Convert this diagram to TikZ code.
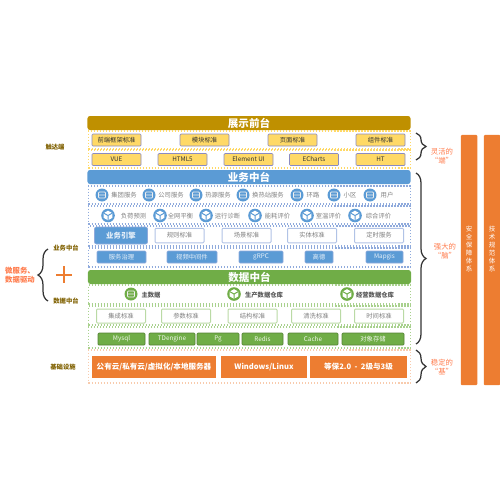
\documentclass[tikz,border=0pt]{standalone}
\usepackage{fontspec}
\setmainfont{Noto Sans CJK SC}
\usepackage{xcolor}
\usetikzlibrary{decorations.pathreplacing}
\definecolor{goldbar}{HTML}{BF9000}
\definecolor{goldbtn}{HTML}{FFD966}
\definecolor{goldtxt}{HTML}{7F6000}
\definecolor{bluebar}{HTML}{5B9BD5}
\definecolor{bluedot}{HTML}{8FAADC}
\definecolor{greenbar}{HTML}{70AD47}
\definecolor{greendot}{HTML}{A9D18E}
\definecolor{orangebar}{HTML}{ED7D31}
\definecolor{orangedot}{HTML}{F8CBAD}
\definecolor{slogan}{HTML}{FF7C4D}
\begin{document}
\begin{tikzpicture}[x=0.2mm,y=-0.2mm,
  fsm/.style={font=\fontsize{3.6}{4.6}\selectfont},
  fmd/.style={font=\fontsize{4.3}{5}\selectfont\bfseries},
  bar/.style={rounded corners=0.5mm, minimum width=64.6mm, minimum height=2.8mm, inner sep=0pt, text=white, font=\fontsize{6}{7}\selectfont\bfseries},
  tier/.style={densely dotted, line width=0.25mm, minimum width=64.4mm, inner sep=0pt},
  btn/.style={rounded corners=0.2mm, minimum height=2.4mm, minimum width=9.8mm, inner sep=0pt, fsm},
  ybtn/.style={btn, draw=blue!30!gray!70, fill=goldbtn, text=black!80},
  bbtn/.style={btn, draw=bluedot, fill=bluebar, text=white!85!bluebar},
  wbtn/.style={btn, draw=bluedot!70, line width=0.2mm, fill=white, text=gray},
  gbtn/.style={btn, draw=greenbar!75!black, fill=greenbar, text=white!90!greenbar},
  hbtn/.style={btn, draw=greendot!80, line width=0.2mm, fill=white, text=gray},
  obtn/.style={minimum height=4.4mm, inner sep=0pt, fill=orangebar, text=white, fmd},
  lbl/.style={fsm, text=gray, inner sep=0pt},
  glbl/.style={text=black!65, inner sep=0pt, font=\fontsize{3.6}{4.6}\selectfont\bfseries},
  side/.style={text=goldtxt, inner sep=0pt, font=\fontsize{3.6}{4.4}\selectfont\bfseries},
  say/.style={text=slogan, inner sep=0pt, align=center, font=\fontsize{4.2}{5}\selectfont},
  col/.style={fill=orangebar, minimum width=3.3mm, minimum height=50mm, rounded corners=0.2mm},
  coltxt/.style={text=white, inner sep=0pt, align=center, font=\fontsize{3.7}{4.6}\selectfont},
  brc/.style={decorate, decoration={brace, amplitude=2mm}, line width=0.25mm, black!80},
  dbicon/.pic={
    \fill[pic actions] (0,0) circle (6.5);
    \draw[white!70!black!20, line width=0.15mm, rounded corners=0.2mm] (-3.6,-3) rectangle (3.6,3) (-3.6,0) -- (3.6,0);
  },
  cubeicon/.pic={
    \fill[pic actions] (0,0) circle (6.8);
    \fill[white] (0,-4.8) -- (4.3,-2.4) -- (4.3,2.4) -- (0,4.8) -- (-4.3,2.4) -- (-4.3,-2.4) -- cycle;
    \draw[pic actions, line width=0.2mm] (-4.3,-2.4) -- (0,0) -- (4.3,-2.4) (0,0) -- (0,4.8);
  }]
\useasboundingbox (0,0) rectangle (500,500);

% display layer
\node[bar, fill=goldbar] (showbar) at (249,123) {展示前台};
\node[tier, draw=goldbtn, minimum height=3.6mm] (showa) at (249.5,140) {};
\node[tier, draw=goldbtn, minimum height=3.6mm] (showb) at (249.5,159) {};
\node[ybtn] (frontstd) at (116.5,140) {前端框架标准};
\node[ybtn] (modstd) at (204.5,140) {模块标准};
\node[ybtn] (pagestd) at (292.5,140) {页面标准};
\node[ybtn] (partstd) at (380.5,140) {组件标准};
\node[ybtn] (vue) at (116.5,159.5) {VUE};
\node[ybtn] (html) at (182.5,159.5) {HTML5};
\node[ybtn] (elem) at (248.5,159.5) {Element UI};
\node[ybtn] (echarts) at (314,159.5) {ECharts};
\node[ybtn] (ht) at (380.5,159.5) {HT};

% business layer
\node[bar, fill=bluebar] (bizbar) at (249,177) {业务中台};
\node[tier, draw=bluedot, minimum height=3.6mm] (biza) at (249.5,195) {};
\node[tier, draw=bluedot, minimum height=3.6mm] (bizb) at (249.5,215) {};
\node[tier, draw=bluedot, minimum height=4mm] (bizc) at (249.5,236) {};
\node[tier, draw=bluedot, minimum height=3.8mm] (bizd) at (249.5,257.5) {};
\pic[bluebar] (ia) at (102,195) {dbicon};
\pic[bluebar] (ib) at (149,195) {dbicon};
\pic[bluebar] (ic) at (196,195) {dbicon};
\pic[bluebar] (id) at (243,195) {dbicon};
\pic[bluebar] (ie) at (297,195) {dbicon};
\pic[bluebar] (if) at (334,195) {dbicon};
\pic[bluebar] (ig) at (370,195) {dbicon};
\node[lbl] (groupsvc) at (124,195) {集团服务};
\node[lbl] (compsvc) at (171,195) {公司服务};
\node[lbl] (heatsvc) at (218,195) {热源服务};
\node[lbl] (stnsvc) at (268,195) {换热站服务};
\node[lbl] (loop) at (313,195) {环路};
\node[lbl] (area) at (350,195) {小区};
\node[lbl] (user) at (387,195) {用户};
\pic[bluebar] (ja) at (108,215.5) {cubeicon};
\pic[bluebar] (jb) at (160,215.5) {cubeicon};
\pic[bluebar] (jc) at (206,215.5) {cubeicon};
\pic[bluebar] (jd) at (255,215.5) {cubeicon};
\pic[bluebar] (je) at (307,215.5) {cubeicon};
\pic[bluebar] (jf) at (355,215.5) {cubeicon};
\node[lbl] (loadfc) at (133.5,216) {负荷预测};
\node[lbl] (balance) at (180.5,216) {全网平衡};
\node[lbl] (diag) at (227.5,216) {运行诊断};
\node[lbl] (energy) at (277.5,216) {能耗评价};
\node[lbl] (room) at (328.5,216) {室温评价};
\node[lbl] (overall) at (378.5,216) {综合评价};
\node[bbtn, minimum width=10.6mm, minimum height=3.4mm, rounded corners=0.4mm, font=\fontsize{4.2}{5}\selectfont\bfseries] (engine) at (121,235.5) {业务引擎};
\node[wbtn, minimum height=2.9mm] (rulestd) at (179.5,235.5) {规则标准};
\node[wbtn, minimum height=2.9mm] (scenestd) at (246.5,235.5) {场景标准};
\node[wbtn, minimum height=2.9mm] (entstd) at (312,235.5) {实体标准};
\node[wbtn, minimum height=2.9mm] (timesvc) at (379,235.5) {定时服务};
\node[bbtn] (govern) at (121.5,257) {服务治理};
\node[bbtn, minimum width=10mm] (video) at (192,257) {视频中间件};
\node[bbtn, minimum width=8.8mm] (grpc) at (261,257) {gRPC};
\node[bbtn, minimum width=5.6mm] (gaode) at (319,257) {高德};
\node[bbtn, minimum width=7.4mm] (mapgis) at (384.5,257) {Mapgis};

% data layer
\node[bar, fill=greenbar] (databar) at (249.5,277) {数据中台};
\node[tier, draw=greendot, minimum height=3.8mm] (dataa) at (249.5,294.5) {};
\node[tier, draw=greendot, minimum height=3.8mm] (datab) at (249.5,315.5) {};
\node[tier, draw=greendot, minimum height=4.2mm] (datac) at (249.5,337.5) {};
\pic[greenbar] (ka) at (131,294) {dbicon};
\pic[greenbar] (kb) at (234,294) {cubeicon};
\pic[greenbar] (kc) at (347,294) {cubeicon};
\node[glbl] (master) at (151,295) {主数据};
\node[glbl] (prod) at (264,295) {生产数据仓库};
\node[glbl] (oper) at (375,295) {经营数据仓库};
\node[hbtn, minimum height=2.8mm] (intstd) at (121,316) {集成标准};
\node[hbtn, minimum height=2.8mm] (parstd) at (186,316) {参数标准};
\node[hbtn, minimum height=2.8mm] (structstd) at (252.5,316) {结构标准};
\node[hbtn, minimum height=2.8mm] (cleanstd) at (316,316) {清洗标准};
\node[hbtn, minimum height=2.8mm] (tmstd) at (379,316) {时间标准};
\node[gbtn, minimum width=9.4mm] (mysql) at (121.5,339) {Mysql};
\node[gbtn, minimum width=9.2mm] (tdengine) at (172,339) {TDengine};
\node[gbtn, minimum width=8.4mm] (pg) at (218,339) {Pg};
\node[gbtn, minimum width=8.2mm] (redis) at (262.5,339) {Redis};
\node[gbtn, minimum width=10mm] (cache) at (313,339) {Cache};
\node[gbtn, minimum width=12.4mm] (objstore) at (373,339) {对象存储};

% base layer
\node[tier, draw=orangedot, minimum height=6.6mm] (basetier) at (249.5,366.5) {};
\node[obtn, minimum width=24.8mm] (cloud) at (154,367) {公有云/私有云/虚拟化/本地服务器};
\node[obtn, minimum width=17.2mm] (winlinux) at (264,367) {Windows/Linux};
\node[obtn, minimum width=19.4mm] (level) at (358.5,367) {等保2.0 \ - \ 2级与3级};

% left side
\node[side] (reach) at (55,147) {触达端};
\node[side] (bizside) at (66,248) {业务中台};
\node[side] (dataside) at (66,301) {数据中台};
\node[side] (infra) at (63,367) {基础设施};
\node[say, align=left, font=\fontsize{4.2}{5}\selectfont\bfseries] (micro) at (20,275) {微服务、\\数据驱动};
\draw[orangebar, line width=0.3mm] (56,275) -- (72,275) (64,266) -- (64,283);
\coordinate (la) at (48,249);
\coordinate (lb) at (48,301);
\draw[brc] (lb) -- (la);

% right side
\coordinate (ra) at (416,133);
\coordinate (rb) at (416,160);
\coordinate (rc) at (416,173);
\coordinate (rd) at (416,344);
\coordinate (re) at (416,350);
\coordinate (rf) at (416,383);
\draw[brc] (ra) -- (rb);
\draw[brc] (rc) -- (rd);
\draw[brc] (re) -- (rf);
\node[say] (flex) at (442,156) {灵活的\\“端”};
\node[say] (brain) at (445,251) {强大的\\“脑”};
\node[say] (stable) at (442,367) {稳定的\\“基”};
\node[col] (safecol) at (469,260) {};
\node[col] (techcol) at (492,260) {};
\node[coltxt] (safetxt) at (469,249) {安\\全\\保\\障\\体\\系};
\node[coltxt] (techtxt) at (492,249) {技\\术\\规\\范\\体\\系};
\end{tikzpicture}
\end{document}
